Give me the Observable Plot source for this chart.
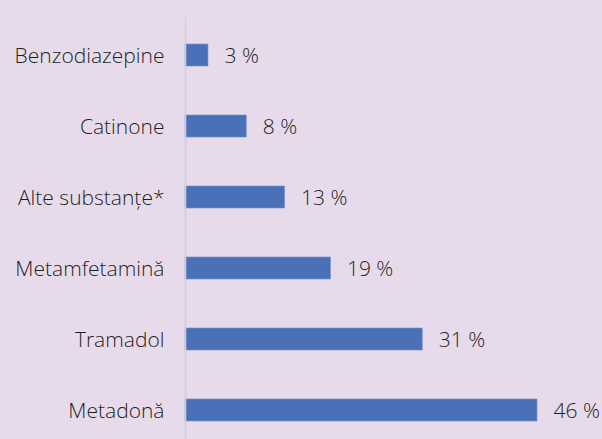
<!DOCTYPE html>
<html>
<head>
<meta charset="utf-8">
<script src="https://cdn.jsdelivr.net/npm/d3@7"></script>
<script src="https://cdn.jsdelivr.net/npm/@observablehq/plot@0.6"></script>
<style>
  html, body { margin: 0; padding: 0; background: #e7dbeb; }
  #chart svg { display: block; }
</style>
</head>
<body>
<div id="chart"></div>
<script>
const categories = ["Benzodiazepine", "Catinone", "Alte substanțe*", "Metamfetamină", "Tramadol", "Metadonă"];
const values = [3, 8, 13, 19, 31, 46];
const valueLabels = ["3 %", "8 %", "13 %", "19 %", "31 %", "46 %"];

const data = categories.map((c, i) => ({category: c, value: values[i], label: valueLabels[i]}));

const chart = Plot.plot({
  width: 602,
  height: 439,
  marginLeft: 185,
  marginRight: 65,
  marginTop: 42,
  marginBottom: 15,
  style: {background: "#e7dbeb", fontFamily: "'Open Sans', sans-serif", fontSize: "21px", fontWeight: 300, color: "#1f1f1f"},
  x: {domain: [0, 46], axis: null},
  y: {domain: categories, paddingInner: 0.69, paddingOuter: 0, label: null},
  marks: [
    Plot.barX(data, {x: "value", y: "category", fill: "#4a71b7", stroke: "#6f8fcc", strokeWidth: 0.6}),
    Plot.ruleX([0], {stroke: "#d2ced4", strokeWidth: 1.5, insetTop: -25, insetBottom: -15}),
    Plot.axisY({tickSize: 0, tickPadding: 21, fontSize: 21, fontWeight: 300, fill: "#1f1f1f", label: null, dy: 1}),
    Plot.text(data, {x: "value", y: "category", text: "label", textAnchor: "start", dx: 16, dy: 1, fontSize: 21, fontWeight: 300, fill: "#1f1f1f"})
  ]
});
document.getElementById("chart").appendChild(chart);
</script>
</body>
</html>
